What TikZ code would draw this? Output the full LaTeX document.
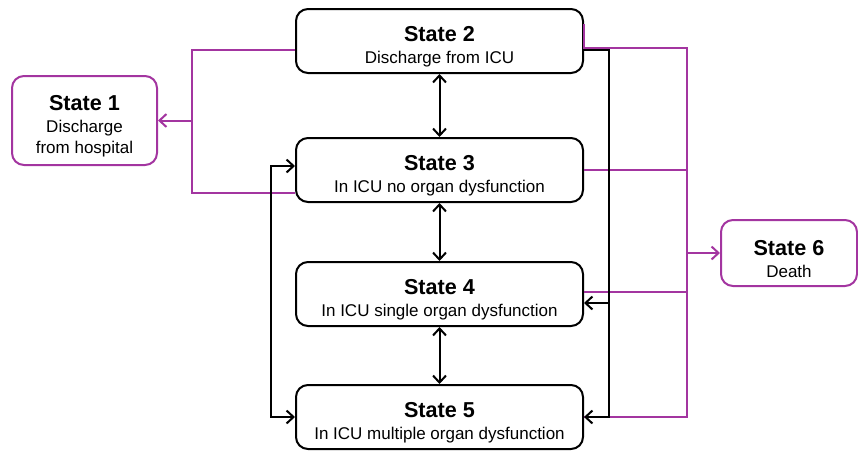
\documentclass[tikz,border=0pt]{standalone}
\usepackage{fontspec}
\setmainfont{Liberation Sans}
\usetikzlibrary{arrows.meta, positioning}
\definecolor{exitpurple}{RGB}{163,53,160}
\newcommand{\statetitle}[1]{{\fontsize{10.8}{12}\selectfont\bfseries\rule{0pt}{13.5pt}#1}}

\begin{document}
\begin{tikzpicture}[
  x=0.5pt, y=-0.5pt,
  state/.style={rectangle, draw, line width=1pt, rounded corners=6pt, minimum width=143.5pt, minimum height=32pt, align=center, inner sep=1pt, font=\fontsize{8.5}{10.8}\selectfont},
  exitstate/.style={state, draw=exitpurple},
  conn/.style={-{Straight Barb[length=3.5pt, width=6.5pt]}, line width=1pt},
  bothways/.style={{Straight Barb[length=3.5pt, width=6.5pt]}-{Straight Barb[length=3.5pt, width=6.5pt]}, line width=1pt},
  exitline/.style={line width=1pt, draw=exitpurple},
  exitarrow/.style={exitline, -{Straight Barb[length=3.5pt, width=6.5pt]}}
]
\useasboundingbox (0,0) rectangle (858,451);

% ICU states
\node[state] (s2) at (439.5,41) {\statetitle{State 2}\\Discharge from ICU};
\node[state, below=31.5pt of s2] (s3) {\statetitle{State 3}\\In ICU no organ dysfunction};
\node[state, below=29pt of s3] (s4) {\statetitle{State 4}\\In ICU single organ dysfunction};
\node[state, below=28.5pt of s4] (s5) {\statetitle{State 5}\\In ICU multiple organ dysfunction};

% Absorbing states
\node[exitstate, minimum width=72.5pt, minimum height=44.5pt] (s1) at (84.5,120.5) {\statetitle{State 1}\\Discharge\\from hospital};
\node[exitstate, minimum width=68pt, minimum height=33pt] (s6) at (789,253) {\statetitle{State 6}\\Death};

% Junctions
\coordinate (lbus) at (192,0);
\coordinate (lloop) at (271,0);
\coordinate (rloop) at (609,0);
\coordinate (rbus) at (687,0);
\coordinate (s3out) at ([yshift=5pt]s3.south west);
\coordinate (s4out) at ([yshift=1pt]s4.east);
\coordinate (s4in) at ([yshift=-4.5pt]s4.east);

% To discharge from hospital
\draw[exitline] ([yshift=-4.5pt]s2.west) -| (lbus |- s3out) -- (s3out);
\draw[exitarrow] (lbus |- s1.east) -- (s1.east);

% To death
\draw[exitline] ([yshift=8.5pt]s2.east) -- ([yshift=-3.5pt]s2.east) -| (rbus |- s5.east) -- (s5.east);
\draw[exitline] (s3.east) -- (rbus |- s3.east);
\draw[exitline] (s4out) -- (rbus |- s4out);
\draw[exitarrow] (rbus |- s6.west) -- (s6.west);

% Transitions between ICU states
\draw[bothways] (s2) -- (s3);
\draw[bothways] (s3) -- (s4);
\draw[bothways] (s4) -- (s5);
\draw[bothways] ([yshift=2pt]s3.west) -| (lloop |- s5.west) -- (s5.west);
\draw[conn] ([yshift=-4.5pt]s2.east) -| (rloop |- s5.east) -- (s5.east);
\draw[conn] (rloop |- s4in) -- (s4in);

\end{tikzpicture}
\end{document}
